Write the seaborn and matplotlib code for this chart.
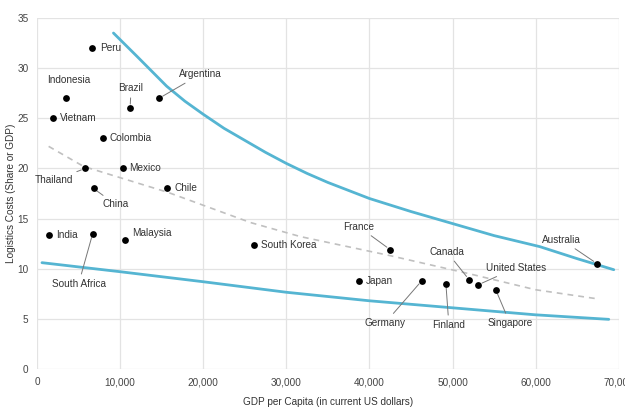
import matplotlib
matplotlib.use("Agg")
import matplotlib.pyplot as plt
import seaborn as sns
import pandas as pd

# countries: GDP per capita (US$) and logistics costs (% of GDP)
countries = ["Peru", "Indonesia", "Vietnam", "Brazil", "Argentina", "Colombia",
             "Mexico", "Chile", "Thailand", "China", "India", "South Africa",
             "Malaysia", "South Korea", "France", "Japan", "Germany", "Finland",
             "Canada", "United States", "Singapore", "Australia"]
gdp = [6600, 3500, 1900, 11200, 14700, 7900, 10300, 15700, 5800, 6800, 1500, 6700,
       10600, 26100, 42500, 38700, 46300, 49200, 52000, 53100, 55200, 67400]
cost = [32.0, 27.0, 25.0, 26.0, 27.0, 23.0, 20.0, 18.0, 20.0, 18.0, 13.4, 13.5,
        12.9, 12.4, 11.9, 8.8, 8.8, 8.5, 8.9, 8.4, 7.9, 10.5]

# upper boundary curve
upper_x = [9200, 12000, 15600, 17800, 20000, 22500, 25000, 27500, 30000, 32500, 35000,
           40000, 45000, 50000, 55000, 60500, 65000, 69400]
upper_y = [33.5, 31.2, 28.2, 26.7, 25.4, 24.0, 22.8, 21.6, 20.5, 19.5, 18.6,
           17.0, 15.7, 14.5, 13.3, 12.2, 11.0, 9.9]

# lower boundary curve
lower_x = [600, 10000, 20000, 30000, 40000, 50000, 60000, 68800]
lower_y = [10.6, 9.7, 8.7, 7.65, 6.8, 6.1, 5.4, 4.95]

# dashed trend line
trend_x = [1400, 5600, 15800, 25700, 31700, 42500, 52000, 60000, 67400]
trend_y = [22.2, 20.2, 17.6, 14.6, 13.2, 11.3, 9.5, 7.9, 7.0]

df = pd.DataFrame({"country": countries, "gdp": gdp, "cost": cost})

# label placement: offset in pixels, alignment, leader line
label_pos = {
    "Peru": (8, 0, "left", False),
    "Indonesia": (3, 18, "center", False),
    "Vietnam": (7, 0, "left", False),
    "Brazil": (1, 20, "center", True),
    "Argentina": (20, 24, "left", True),
    "Colombia": (7, 0, "left", False),
    "Mexico": (7, 0, "left", False),
    "Chile": (7, 0, "left", False),
    "Thailand": (-12, -12, "right", True),
    "China": (9, -16, "left", True),
    "India": (7, 0, "left", False),
    "South Africa": (-14, -50, "center", True),
    "Malaysia": (7, 7, "left", True),
    "South Korea": (7, 0, "left", False),
    "France": (-16, 23, "right", True),
    "Japan": (7, 0, "left", False),
    "Germany": (-16, -42, "right", True),
    "Finland": (3, -41, "center", True),
    "Canada": (-5, 28, "right", True),
    "United States": (8, 17, "left", True),
    "Singapore": (14, -33, "center", True),
    "Australia": (-16, 24, "right", True),
}

sns.set_theme(style="whitegrid")
plt.rcParams["font.family"] = ["Liberation Sans Narrow", "Liberation Sans", "DejaVu Sans"]

fig = plt.figure(figsize=(6.25, 4.07), dpi=100)
ax = fig.add_axes([0.0592, 0.0934, 0.9308, 0.8624])

blue = "#55b5d2"
sns.lineplot(x=upper_x, y=upper_y, ax=ax, color=blue, linewidth=2.0, sort=False)
sns.lineplot(x=lower_x, y=lower_y, ax=ax, color=blue, linewidth=2.0, sort=False)
ax.plot(trend_x, trend_y, color="#c0c0c0", linewidth=1.2, linestyle=(0, (3.5, 3)))
sns.scatterplot(data=df, x="gdp", y="cost", ax=ax, color="black", s=24,
                edgecolor="black", linewidth=0, zorder=5)

for name, x, y in zip(countries, gdp, cost):
    dx, dy, ha, leader = label_pos[name]
    props = None
    if leader:
        props = dict(arrowstyle="-", color="#777777", lw=0.7, shrinkA=1, shrinkB=3)
    ax.annotate(name, xy=(x, y), xytext=(dx, dy), textcoords="offset pixels",
                ha=ha, va="center", fontsize=7.2, color="#333333",
                arrowprops=props)

ax.set_xlim(0, 70000)
ax.set_ylim(0, 35)
ax.set_xticks(range(0, 70001, 10000))
ax.set_xticklabels([f"{v:,}" for v in range(0, 70001, 10000)])
ax.set_yticks(range(0, 36, 5))
ax.grid(True, color="#e3e3e3", linewidth=0.9)
for sp in ax.spines.values():
    sp.set_visible(False)
ax.tick_params(axis="both", length=0, labelsize=7.2, labelcolor="#444444", pad=6)
ax.set_xlabel("GDP per Capita (in current US dollars)", fontsize=7.2, color="#333333", labelpad=7)
ax.set_ylabel("Logistics Costs (Share or GDP)", fontsize=7.2, color="#333333", labelpad=1)

fig.savefig("out.png", dpi=100)
